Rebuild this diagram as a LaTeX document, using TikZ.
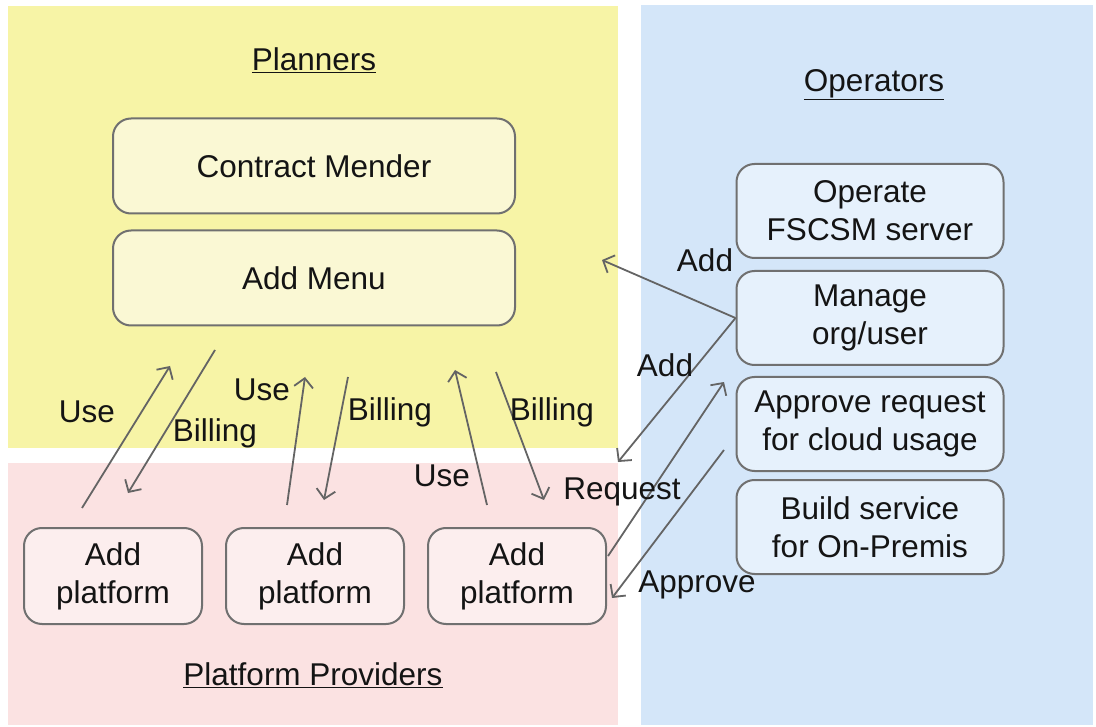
\documentclass[tikz,border=0pt]{standalone}
\usepackage{fontspec}
\setmainfont{Liberation Sans}
\usetikzlibrary{arrows.meta,positioning}

\definecolor{planbg}{RGB}{247,244,166}
\definecolor{provbg}{RGB}{251,226,226}
\definecolor{operbg}{RGB}{212,230,249}
\definecolor{planfill}{RGB}{250,248,212}
\definecolor{provfill}{RGB}{252,238,238}
\definecolor{operfill}{RGB}{230,241,252}
\definecolor{edgegray}{RGB}{112,112,112}
\definecolor{arrowgray}{RGB}{100,100,100}
\definecolor{inkgray}{RGB}{20,20,20}

\begin{document}
\begin{tikzpicture}[
  x=1pt,y=-1pt,
  font=\fontsize{31.5}{38}\selectfont,
  every node/.style={text=inkgray},
  box/.style={draw=edgegray,line width=2pt,rounded corners=18pt,align=center,
              inner sep=0pt},
  planbox/.style={box,fill=planfill,minimum width=402pt,minimum height=95pt},
  operbox/.style={box,fill=operfill,minimum width=267pt,minimum height=94pt},
  provbox/.style={box,fill=provfill,minimum width=178pt,minimum height=96pt},
  title/.style={inner sep=0pt},
  lbl/.style={inner sep=0pt},
  flow/.style={-{Straight Barb[length=9pt,width=19pt,line width=1.8pt]},
               line width=1.8pt,draw=arrowgray}
]
\useasboundingbox (0,0) rectangle (1096,727);

% the three areas
\fill[planbg] (8,6) rectangle (618,448);
\fill[provbg] (8,463) rectangle (618,725);
\fill[operbg] (641,5) rectangle (1093,725);

\node[title] (planners) at (314,60) {\underline{Planners}};
\node[title] (operators) at (874,85) {\underline{Operators}};
\node[title] (providers) at (313,675) {\underline{Platform Providers}};

% planners
\node[planbox] (mender) at (314,166) {Contract Mender};
\node[planbox,below=15pt of mender] (menu) {Add Menu};

% operators
\node[operbox] (operate) at (870,211) {Operate\\FSCSM server};
\node[operbox,below=11pt of operate] (org) {Manage\\org/user};
\node[operbox,below=10pt of org] (approve) {Approve request\\for cloud usage};
\node[operbox,below=7pt of approve] (build) {Build service\\for On-Premis};

% platform providers
\node[provbox] (pf1) at (113,576) {Add\\platform};
\node[provbox,right=22pt of pf1] (pf2) {Add\\platform};
\node[provbox,right=22pt of pf2] (pf3) {Add\\platform};

% free arrow ends
\coordinate (use1a) at (82,508);   \coordinate (use1b) at (170,366);
\coordinate (bil1a) at (215,350);  \coordinate (bil1b) at (128,493);
\coordinate (use2a) at (287,505);  \coordinate (use2b) at (305,377);
\coordinate (bil2a) at (348,377);  \coordinate (bil2b) at (324,500);
\coordinate (use3a) at (487,505);  \coordinate (use3b) at (455,370);
\coordinate (bil3a) at (496,372);  \coordinate (bil3b) at (544,500);
\coordinate (add1b) at (602,260);
\coordinate (add2b) at (618,462);
\coordinate (reqa) at (608,556);   \coordinate (reqb) at (724,382);
\coordinate (appa) at (724,450);   \coordinate (appb) at (612,598);

\draw[flow] (use1a) -- (use1b);
\draw[flow] (bil1a) -- (bil1b);
\draw[flow] (use2a) -- (use2b);
\draw[flow] (bil2a) -- (bil2b);
\draw[flow] (use3a) -- (use3b);
\draw[flow] (bil3a) -- (bil3b);
\draw[flow] (org.west) -- (add1b);
\draw[flow] (org.west) -- (add2b);
\draw[flow] (reqa) -- (reqb);
\draw[flow] (appa) -- (appb);

% arrow labels
\node[lbl] (luse1) at (87,412) {Use};
\node[lbl] (lbil1) at (215,433) {Billing};
\node[lbl] (luse2) at (262,390) {Use};
\node[lbl] (lbil2) at (390,412) {Billing};
\node[lbl] (luse3) at (442,476) {Use};
\node[lbl] (lbil3) at (552,412) {Billing};
\node[lbl] (ladd1) at (705,260) {Add};
\node[lbl] (ladd2) at (665,365) {Add};
\node[lbl] (lreq) at (622,492) {Request};
\node[lbl] (lapp) at (697,585) {Approve};
\end{tikzpicture}
\end{document}
